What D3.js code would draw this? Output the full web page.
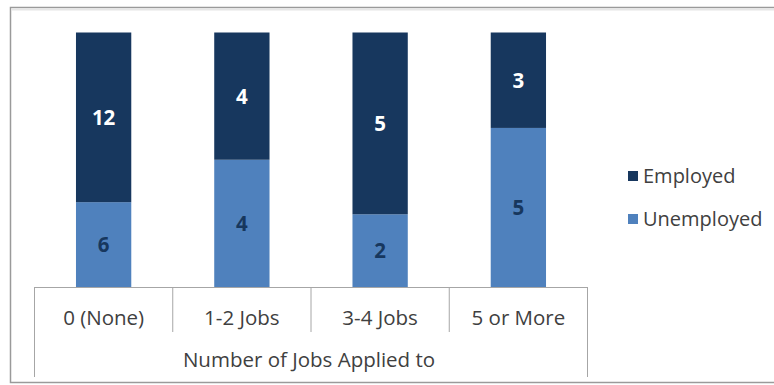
<!DOCTYPE html>
<html>
<head>
<meta charset="utf-8">
<script src="https://cdn.jsdelivr.net/npm/d3@7"></script>
<style>
  html, body { margin: 0; padding: 0; background: #fff; }
  svg { display: block; }
  text { font-family: "Open Sans", Lato, sans-serif; }
</style>
</head>
<body>
<svg id="chart" width="774" height="385"></svg>
<script>
// Job applications vs. employment outcome
const categories = ["0 (None)", "1-2 Jobs", "3-4 Jobs", "5 or More"];
const employed   = [12, 4, 5, 3];
const unemployed = [6, 4, 2, 5];
const seriesNames = ["Unemployed", "Employed"];
const axisTitle = "Number of Jobs Applied to";

const colors = { Employed: "#17375E", Unemployed: "#4F81BD" };
const labelColors = { Employed: "#ffffff", Unemployed: "#17375E" };

const rows = categories.map((c, i) => ({ category: c, Employed: employed[i], Unemployed: unemployed[i] }));

const svg = d3.select("#chart");
const W = 774, H = 385;

// outer frame
svg.append("rect").attr("x", 10.5).attr("y", 7.5).attr("width", W + 10).attr("height", 375)
  .attr("fill", "#fff").attr("stroke", "#9a9a9a").attr("stroke-width", 1.5);
svg.append("line").attr("x1", 11).attr("x2", W).attr("y1", 9.5).attr("y2", 9.5)
  .attr("stroke", "#e6e6e6").attr("stroke-width", 2);

const plot = { left: 34.5, right: 587.5, top: 32.5, bottom: 287 };

const x = d3.scaleBand().domain(categories).range([plot.left, plot.right]).paddingInner(0.6).paddingOuter(0.3);
const band = d3.scaleBand().domain(categories).range([plot.left, plot.right]);
const y = d3.scaleLinear().domain([0, 1]).range([plot.bottom, plot.top]);

const stacked = d3.stack().keys(seriesNames).offset(d3.stackOffsetExpand)(rows);

const g = svg.append("g");
stacked.forEach(layer => {
  const key = layer.key;
  g.selectAll(null).data(layer).enter().append("rect")
    .attr("x", d => x(d.data.category))
    .attr("width", x.bandwidth())
    .attr("y", d => y(d[1]))
    .attr("height", d => y(d[0]) - y(d[1]))
    .attr("fill", colors[key]);
  g.selectAll(null).data(layer).enter().append("text")
    .attr("x", d => x(d.data.category) + x.bandwidth() / 2)
    .attr("y", d => (y(d[0]) + y(d[1])) / 2)
    .attr("dy", "0.36em")
    .attr("text-anchor", "middle")
    .attr("font-size", 20.5).attr("font-weight", "bold")
    .attr("fill", labelColors[key])
    .text(d => d.data[key]);
});

// category axis with dividers
const axisColor = "#a6a6a6";
svg.append("line").attr("x1", plot.left).attr("x2", plot.right).attr("y1", plot.bottom + 0.5).attr("y2", plot.bottom + 0.5)
  .attr("stroke", axisColor);
const edges = categories.map(c => band(c)).concat([plot.right]);
edges.forEach((ex, i) => {
  const outer = i === 0 || i === edges.length - 1;
  svg.append("line").attr("x1", ex).attr("x2", ex)
    .attr("y1", plot.bottom).attr("y2", outer ? 377 : 332)
    .attr("stroke", axisColor);
});
svg.selectAll(".cat").data(categories).enter().append("text")
  .attr("x", d => band(d) + band.bandwidth() / 2)
  .attr("y", 318).attr("dy", "0.35em")
  .attr("text-anchor", "middle").attr("font-size", 20.5).attr("fill", "#404040")
  .text(d => d);
svg.append("text").attr("x", (plot.left + plot.right) / 2 - 2).attr("y", 360).attr("dy", "0.35em")
  .attr("text-anchor", "middle").attr("font-size", 20.5).attr("fill", "#404040")
  .text(axisTitle);

// legend
const legendItems = ["Employed", "Unemployed"];
const lg = svg.append("g").attr("transform", "translate(628,176)");
legendItems.forEach((k, i) => {
  const row = lg.append("g").attr("transform", `translate(0,${i * 43})`);
  row.append("rect").attr("x", 0).attr("y", -5).attr("width", 10).attr("height", 10).attr("fill", colors[k]);
  row.append("text").attr("x", 15).attr("y", 0).attr("dy", "0.36em")
    .attr("font-size", 20).attr("fill", "#404040").text(k);
});
</script>
</body>
</html>
